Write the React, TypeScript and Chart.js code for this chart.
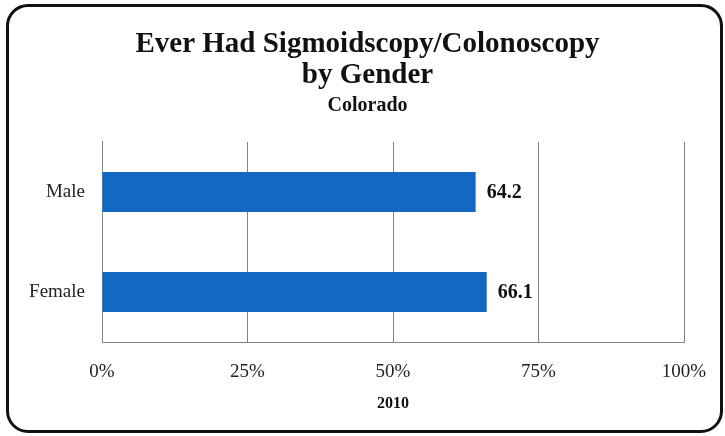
import React, { useEffect, useRef } from "react";
import { Chart, registerables } from "chart.js";

Chart.register(...registerables);

const categories = ["Male", "Female"];
const values = [64.2, 66.1];
const tickValues = [0, 25, 50, 75, 100];
const titleLines = ["Ever Had Sigmoidscopy/Colonoscopy", "by Gender"];
const subtitleText = "Colorado";
const axisTitle = "2010";

const SERIF = "'Liberation Serif', 'DejaVu Serif', serif";
const BAR_COLOR = "#1368c4";
const GRID_COLOR = "#828282";

// Writes each bar's value just past the end of the bar.
const valueLabels = {
  id: "valueLabels",
  afterDatasetsDraw(chart: any) {
    const { ctx } = chart;
    const meta = chart.getDatasetMeta(0);
    ctx.save();
    ctx.font = `bold 20px ${SERIF}`;
    ctx.fillStyle = "#111";
    ctx.textAlign = "left";
    ctx.textBaseline = "middle";
    meta.data.forEach((bar: any, i: number) => {
      ctx.fillText(values[i].toFixed(1), bar.x + 11, bar.y + 1);
    });
    ctx.restore();
  },
};

export default function App() {
  const canvasRef = useRef<HTMLCanvasElement | null>(null);

  useEffect(() => {
    document.body.style.margin = "0";
    const canvas = canvasRef.current;
    if (!canvas) return;
    const chart = new Chart(canvas, {
      type: "bar",
      data: {
        labels: categories,
        datasets: [
          {
            data: values,
            backgroundColor: BAR_COLOR,
            borderWidth: 0,
            categoryPercentage: 1,
            barPercentage: 0.4,
          },
        ],
      },
      options: {
        indexAxis: "y",
        responsive: false,
        animation: false,
        events: [],
        layout: { padding: { left: 10, right: 0, top: 0, bottom: 0 } },
        plugins: {
          legend: { display: false },
          tooltip: { enabled: false },
          title: {
            display: true,
            text: titleLines,
            color: "#111",
            font: { family: SERIF, size: 29, weight: "bold", lineHeight: 1.06 },
            padding: { top: 29, bottom: 0 },
          },
          subtitle: {
            display: true,
            text: subtitleText,
            color: "#111",
            font: { family: SERIF, size: 20, weight: "bold", lineHeight: 1.2 },
            padding: { top: 3, bottom: 24.5 },
          },
        },
        scales: {
          x: {
            type: "linear",
            min: 0,
            max: 100,
            afterBuildTicks(scale: any) {
              scale.ticks = tickValues.map((v) => ({ value: v }));
            },
            afterFit(scale: any) {
              scale.height = 94;
              scale.paddingLeft = 0;
              scale.paddingRight = 41;
            },
            ticks: {
              padding: 19,
              color: "#222",
              font: { family: SERIF, size: 19 },
              callback: (v: any) => `${v}%`,
            },
            grid: { color: GRID_COLOR, lineWidth: 1, drawTicks: false },
            border: { display: true, color: GRID_COLOR, width: 1 },
            title: {
              display: true,
              text: axisTitle,
              color: "#111",
              font: { family: SERIF, size: 16, weight: "bold", lineHeight: 1.2 },
              padding: { top: 0, bottom: 23 },
            },
          },
          y: {
            afterFit(scale: any) {
              scale.width = 92;
            },
            ticks: {
              padding: 17,
              color: "#222",
              font: { family: SERIF, size: 19 },
            },
            grid: { display: false, drawTicks: false },
            border: { display: true, color: GRID_COLOR, width: 1 },
          },
        },
      },
      plugins: [valueLabels],
    });
    return () => chart.destroy();
  }, []);

  return (
    <div
      style={{
        position: "fixed",
        left: 0,
        top: 0,
        width: 725,
        height: 436,
        background: "#fff",
        overflow: "hidden",
      }}
    >
      <canvas
        ref={canvasRef}
        width={725}
        height={436}
        style={{ display: "block", position: "absolute", left: 0, top: 0 }}
      />
      <div
        style={{
          position: "absolute",
          left: 6,
          top: 4,
          width: 711,
          height: 423,
          border: "3px solid #111",
          borderRadius: 22,
          pointerEvents: "none",
        }}
      />
    </div>
  );
}
